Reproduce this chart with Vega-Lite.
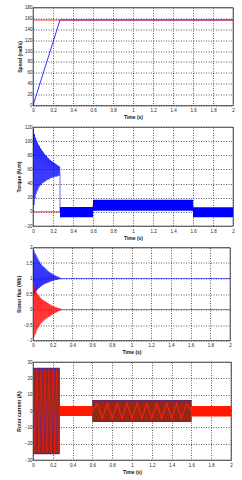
{
  "$schema": "https://vega.github.io/schema/vega-lite/v6.json",
  "padding": {"left": 16, "top": 3.5, "right": 2, "bottom": 2},
  "spacing": 2.5,
  "columns": 1,
  "align": "none",
  "config": {
    "view": {"stroke": "#000", "strokeWidth": 0.7},
    "axis": {"labelFont": "Liberation Sans", "labelFontSize": 4.5, "labelColor": "#222", "titleFont": "Liberation Sans", "titleFontSize": 5, "titleFontWeight": "bold", "titleColor": "#111", "ticks": false, "domain": false, "grid": true, "gridColor": "#333", "gridDash": [1, 1.5], "gridWidth": 0.8, "labelOverlap": false, "labelFlush": false, "labelBound": false, "tickCount": 20},
    "axisX": {"labelPadding": 2, "titlePadding": 2.5},
    "axisY": {"labelPadding": 1}
  },
  "datasets": {
    "speed": [{"t": 0, "v": 0}, {"t": 0.27, "v": 157}, {"t": 2, "v": 157}],
    "speedRef": [{"t": 0, "v": 157}, {"t": 2, "v": 157}],
    "torqueLoad": [{"i": 0, "t": 0, "v": 0}, {"i": 1, "t": 0.6, "v": 0}, {"i": 2, "t": 0.6, "v": 10}, {"i": 3, "t": 1.6, "v": 10}, {"i": 4, "t": 1.6, "v": 0}, {"i": 5, "t": 2, "v": 0}],
    "torque": [
      {"i": 0, "t": 0, "v": 0}, {"i": 1, "t": 0.005, "v": 117}, {"i": 2, "t": 0.01, "v": 10}, {"i": 3, "t": 0.015, "v": 110},
      {"i": 4, "t": 0.02, "v": 19}, {"i": 5, "t": 0.025, "v": 105}, {"i": 6, "t": 0.03, "v": 25}, {"i": 7, "t": 0.035, "v": 101},
      {"i": 8, "t": 0.04, "v": 29}, {"i": 9, "t": 0.045, "v": 98}, {"i": 10, "t": 0.05, "v": 32}, {"i": 11, "t": 0.055, "v": 95},
      {"i": 12, "t": 0.06, "v": 35}, {"i": 13, "t": 0.065, "v": 93}, {"i": 14, "t": 0.07, "v": 37}, {"i": 15, "t": 0.075, "v": 90},
      {"i": 16, "t": 0.08, "v": 38}, {"i": 17, "t": 0.085, "v": 88}, {"i": 18, "t": 0.09, "v": 40}, {"i": 19, "t": 0.095, "v": 86},
      {"i": 20, "t": 0.1, "v": 41}, {"i": 21, "t": 0.105, "v": 84}, {"i": 22, "t": 0.11, "v": 42}, {"i": 23, "t": 0.115, "v": 82},
      {"i": 24, "t": 0.12, "v": 43}, {"i": 25, "t": 0.125, "v": 80}, {"i": 26, "t": 0.13, "v": 44}, {"i": 27, "t": 0.135, "v": 79},
      {"i": 28, "t": 0.14, "v": 45}, {"i": 29, "t": 0.145, "v": 77}, {"i": 30, "t": 0.15, "v": 46}, {"i": 31, "t": 0.155, "v": 76},
      {"i": 32, "t": 0.16, "v": 46}, {"i": 33, "t": 0.165, "v": 74}, {"i": 34, "t": 0.17, "v": 47}, {"i": 35, "t": 0.175, "v": 73},
      {"i": 36, "t": 0.18, "v": 48}, {"i": 37, "t": 0.185, "v": 72}, {"i": 38, "t": 0.19, "v": 48}, {"i": 39, "t": 0.195, "v": 71},
      {"i": 40, "t": 0.2, "v": 49}, {"i": 41, "t": 0.205, "v": 70}, {"i": 42, "t": 0.21, "v": 49}, {"i": 43, "t": 0.215, "v": 69},
      {"i": 44, "t": 0.22, "v": 50}, {"i": 45, "t": 0.225, "v": 68}, {"i": 46, "t": 0.23, "v": 50}, {"i": 47, "t": 0.235, "v": 67},
      {"i": 48, "t": 0.24, "v": 50}, {"i": 49, "t": 0.245, "v": 66}, {"i": 50, "t": 0.25, "v": 51}, {"i": 51, "t": 0.255, "v": 65},
      {"i": 52, "t": 0.26, "v": 51}, {"i": 53, "t": 0.265, "v": 64}, {"i": 54, "t": 0.27, "v": 52}, {"i": 55, "t": 0.27, "v": 0}
    ],
    "torqueBand": [{"t0": 0.27, "t1": 0.6, "lo": -7.5, "hi": 7}, {"t0": 0.6, "t1": 1.6, "lo": 1.5, "hi": 17}, {"t0": 1.6, "t1": 2, "lo": -7.5, "hi": 6.5}],
    "fluxB": [
      {"t": 0, "v": 2.0}, {"t": 0.005, "v": 0.45}, {"t": 0.01, "v": 1.9}, {"t": 0.015, "v": 0.5}, {"t": 0.02, "v": 1.82}, {"t": 0.025, "v": 0.55},
      {"t": 0.03, "v": 1.76}, {"t": 0.035, "v": 0.6}, {"t": 0.04, "v": 1.7}, {"t": 0.045, "v": 0.64}, {"t": 0.05, "v": 1.63}, {"t": 0.055, "v": 0.68},
      {"t": 0.06, "v": 1.57}, {"t": 0.065, "v": 0.7}, {"t": 0.07, "v": 1.52}, {"t": 0.075, "v": 0.73}, {"t": 0.08, "v": 1.47}, {"t": 0.085, "v": 0.76},
      {"t": 0.09, "v": 1.43}, {"t": 0.095, "v": 0.78}, {"t": 0.1, "v": 1.4}, {"t": 0.105, "v": 0.8}, {"t": 0.11, "v": 1.37}, {"t": 0.115, "v": 0.82},
      {"t": 0.12, "v": 1.34}, {"t": 0.125, "v": 0.83}, {"t": 0.13, "v": 1.31}, {"t": 0.135, "v": 0.85}, {"t": 0.14, "v": 1.28}, {"t": 0.145, "v": 0.86},
      {"t": 0.15, "v": 1.25}, {"t": 0.155, "v": 0.87}, {"t": 0.16, "v": 1.22}, {"t": 0.165, "v": 0.89}, {"t": 0.17, "v": 1.2}, {"t": 0.175, "v": 0.9},
      {"t": 0.18, "v": 1.18}, {"t": 0.185, "v": 0.91}, {"t": 0.19, "v": 1.16}, {"t": 0.195, "v": 0.92}, {"t": 0.2, "v": 1.14}, {"t": 0.205, "v": 0.93},
      {"t": 0.21, "v": 1.12}, {"t": 0.215, "v": 0.94}, {"t": 0.22, "v": 1.1}, {"t": 0.225, "v": 0.95}, {"t": 0.23, "v": 1.09}, {"t": 0.235, "v": 0.96},
      {"t": 0.24, "v": 1.07}, {"t": 0.245, "v": 0.96}, {"t": 0.25, "v": 1.06}, {"t": 0.255, "v": 0.97}, {"t": 0.26, "v": 1.04}, {"t": 0.265, "v": 0.98},
      {"t": 0.27, "v": 1.03}, {"t": 0.275, "v": 0.98}, {"t": 0.28, "v": 1.02}, {"t": 0.285, "v": 0.99}, {"t": 0.29, "v": 1.01}, {"t": 0.295, "v": 0.99},
      {"t": 0.3, "v": 1.0}, {"t": 2, "v": 1.0}
    ],
    "fluxR": [
      {"t": 0, "v": -1.0}, {"t": 0.005, "v": 0.9}, {"t": 0.01, "v": -0.9}, {"t": 0.015, "v": 0.75}, {"t": 0.02, "v": -0.82}, {"t": 0.025, "v": 0.65},
      {"t": 0.03, "v": -0.74}, {"t": 0.035, "v": 0.57}, {"t": 0.04, "v": -0.66}, {"t": 0.045, "v": 0.5}, {"t": 0.05, "v": -0.6}, {"t": 0.055, "v": 0.45},
      {"t": 0.06, "v": -0.54}, {"t": 0.065, "v": 0.42}, {"t": 0.07, "v": -0.49}, {"t": 0.075, "v": 0.38}, {"t": 0.08, "v": -0.45}, {"t": 0.085, "v": 0.35},
      {"t": 0.09, "v": -0.42}, {"t": 0.095, "v": 0.32}, {"t": 0.1, "v": -0.39}, {"t": 0.105, "v": 0.3}, {"t": 0.11, "v": -0.36}, {"t": 0.115, "v": 0.28},
      {"t": 0.12, "v": -0.33}, {"t": 0.125, "v": 0.26}, {"t": 0.13, "v": -0.3}, {"t": 0.135, "v": 0.24}, {"t": 0.14, "v": -0.28}, {"t": 0.145, "v": 0.22},
      {"t": 0.15, "v": -0.26}, {"t": 0.155, "v": 0.2}, {"t": 0.16, "v": -0.24}, {"t": 0.165, "v": 0.18}, {"t": 0.17, "v": -0.22}, {"t": 0.175, "v": 0.16},
      {"t": 0.18, "v": -0.2}, {"t": 0.185, "v": 0.14}, {"t": 0.19, "v": -0.18}, {"t": 0.195, "v": 0.12}, {"t": 0.2, "v": -0.16}, {"t": 0.205, "v": 0.11},
      {"t": 0.21, "v": -0.14}, {"t": 0.215, "v": 0.1}, {"t": 0.22, "v": -0.12}, {"t": 0.225, "v": 0.08}, {"t": 0.23, "v": -0.1}, {"t": 0.235, "v": 0.07},
      {"t": 0.24, "v": -0.09}, {"t": 0.245, "v": 0.06}, {"t": 0.25, "v": -0.07}, {"t": 0.255, "v": 0.05}, {"t": 0.26, "v": -0.05}, {"t": 0.265, "v": 0.04},
      {"t": 0.27, "v": -0.04}, {"t": 0.275, "v": 0.03}, {"t": 0.28, "v": -0.03}, {"t": 0.285, "v": 0.02}, {"t": 0.29, "v": -0.01}, {"t": 0.295, "v": 0.01},
      {"t": 0.3, "v": 0}, {"t": 2, "v": 0}
    ],
    "currentBand": [
      {"t0": 0, "t1": 0.27, "lo": -26.5, "hi": 26.5, "c": "p"},
      {"t0": 0, "t1": 0.27, "lo": -25.5, "hi": 25.5, "c": "d"},
      {"t0": 0.27, "t1": 0.6, "lo": -3, "hi": 3, "c": "r"},
      {"t0": 0.6, "t1": 1.6, "lo": -6.8, "hi": 6.8, "c": "p"},
      {"t0": 0.6, "t1": 1.6, "lo": -6.2, "hi": 6.3, "c": "d"},
      {"t0": 1.6, "t1": 2, "lo": -3.3, "hi": 3, "c": "r"}
    ],
    "currentA": [
      {"t": 0, "v": 25.5}, {"t": 0.02, "v": -25.5}, {"t": 0.04, "v": 25.5}, {"t": 0.06, "v": -25.5}, {"t": 0.08, "v": 25.5},
      {"t": 0.1, "v": -25.5}, {"t": 0.12, "v": 25.5}, {"t": 0.14, "v": -25.5}, {"t": 0.16, "v": 25.5}, {"t": 0.18, "v": -25.5},
      {"t": 0.2, "v": 25.5}, {"t": 0.22, "v": -25.5}, {"t": 0.24, "v": 25.5}, {"t": 0.26, "v": -25.5}
    ],
    "currentB": [
      {"t": 0.005, "v": -26}, {"t": 0.035, "v": 26}, {"t": 0.065, "v": -26}, {"t": 0.095, "v": 26}, {"t": 0.125, "v": -26},
      {"t": 0.155, "v": 26}, {"t": 0.185, "v": -26}, {"t": 0.215, "v": 26}, {"t": 0.245, "v": -26}
    ],
    "currentW": [
      {"t": 0.6, "v": 0}, {"t": 0.65, "v": 4.5}, {"t": 0.7, "v": -4.5}, {"t": 0.75, "v": 4.5}, {"t": 0.8, "v": -4.5}, {"t": 0.85, "v": 4.5},
      {"t": 0.9, "v": -4.5}, {"t": 0.95, "v": 4.5}, {"t": 1.0, "v": -4.5}, {"t": 1.05, "v": 4.5}, {"t": 1.1, "v": -4.5}, {"t": 1.15, "v": 4.5},
      {"t": 1.2, "v": -4.5}, {"t": 1.25, "v": 4.5}, {"t": 1.3, "v": -4.5}, {"t": 1.35, "v": 4.5}, {"t": 1.4, "v": -4.5}, {"t": 1.45, "v": 4.5},
      {"t": 1.5, "v": -4.5}, {"t": 1.55, "v": 4.5}, {"t": 1.6, "v": 0}
    ]
  },
  "concat": [
    {
      "width": 200, "height": 98,
      "layer": [
        {"data": {"name": "speed"}, "mark": {"type": "line", "color": "#0000ff", "strokeWidth": 0.8, "clip": true},
         "encoding": {
           "x": {"field": "t", "type": "quantitative", "scale": {"domain": [0, 2], "nice": false}, "axis": {"values": [0, 0.2, 0.4, 0.6, 0.8, 1, 1.2, 1.4, 1.6, 1.8, 2], "format": "~g", "title": "Time (s)", "labelOverlap": false}},
           "y": {"field": "v", "type": "quantitative", "scale": {"domain": [0, 180], "nice": false}, "axis": {"values": [0, 20, 40, 60, 80, 100, 120, 140, 160, 180], "title": "Speed (rad/s)", "titlePadding": 2, "labelOverlap": false}}
         }},
        {"data": {"name": "speedRef"}, "mark": {"type": "line", "color": "#ff0000", "strokeWidth": 0.8, "clip": true},
         "encoding": {"x": {"field": "t", "type": "quantitative"}, "y": {"field": "v", "type": "quantitative"}}}
      ]
    },
    {
      "width": 200, "height": 99,
      "layer": [
        {"data": {"name": "torqueLoad"}, "mark": {"type": "line", "color": "#ff0000", "strokeWidth": 0.8, "clip": true},
         "encoding": {
           "x": {"field": "t", "type": "quantitative", "scale": {"domain": [0, 2], "nice": false}, "axis": {"values": [0, 0.2, 0.4, 0.6, 0.8, 1, 1.2, 1.4, 1.6, 1.8, 2], "format": "~g", "title": "Time (s)", "labelOverlap": false}},
           "y": {"field": "v", "type": "quantitative", "scale": {"domain": [-20, 120], "nice": false}, "axis": {"values": [-20, 0, 20, 40, 60, 80, 100, 120], "title": "Torque (N.m)", "titlePadding": 2.5, "labelOverlap": false}},
           "order": {"field": "i"}
         }},
        {"data": {"name": "torque"}, "mark": {"type": "line", "color": "#0000ff", "strokeWidth": 0.6, "clip": true},
         "encoding": {"x": {"field": "t", "type": "quantitative"}, "y": {"field": "v", "type": "quantitative"}, "order": {"field": "i"}}},
        {"data": {"name": "torqueBand"}, "mark": {"type": "rect", "color": "#0000ff", "clip": true},
         "encoding": {"x": {"field": "t0", "type": "quantitative"}, "x2": {"field": "t1"}, "y": {"field": "lo", "type": "quantitative"}, "y2": {"field": "hi"}}}
      ]
    },
    {
      "width": 197, "height": 93,
      "layer": [
        {"data": {"name": "fluxB"}, "mark": {"type": "line", "color": "#0000ff", "strokeWidth": 0.6, "clip": true},
         "encoding": {
           "x": {"field": "t", "type": "quantitative", "scale": {"domain": [0, 2], "nice": false}, "axis": {"values": [0, 0.2, 0.4, 0.6, 0.8, 1, 1.2, 1.4, 1.6, 1.8, 2], "format": "~g", "title": "Time (s)", "labelOverlap": false}},
           "y": {"field": "v", "type": "quantitative", "scale": {"domain": [-1, 2], "nice": false}, "axis": {"values": [-1, -0.5, 0, 0.5, 1, 1.5, 2], "format": "~g", "title": "Stator flux (Wb)", "titlePadding": 1.7, "labelOverlap": false}}
         }},
        {"data": {"name": "fluxR"}, "mark": {"type": "line", "color": "#ff0000", "strokeWidth": 0.6, "clip": true},
         "encoding": {"x": {"field": "t", "type": "quantitative"}, "y": {"field": "v", "type": "quantitative"}}}
      ]
    },
    {
      "width": 198, "height": 98,
      "layer": [
        {"data": {"name": "currentBand"}, "mark": {"type": "rect", "clip": true},
         "encoding": {
           "x": {"field": "t0", "type": "quantitative", "scale": {"domain": [0, 2], "nice": false}, "axis": {"values": [0, 0.2, 0.4, 0.6, 0.8, 1, 1.2, 1.4, 1.6, 1.8, 2], "format": "~g", "title": "Time (s)", "labelOverlap": false}},
           "x2": {"field": "t1"},
           "y": {"field": "lo", "type": "quantitative", "scale": {"domain": [-30, 30], "nice": false}, "axis": {"values": [-30, -20, -10, 0, 10, 20, 30], "title": "Rotor current (A)", "titlePadding": 2.5, "labelOverlap": false}},
           "y2": {"field": "hi"},
           "color": {"field": "c", "type": "nominal", "scale": {"domain": ["p", "d", "r"], "range": ["#4a2a8a", "#94261a", "#ff1a00"]}, "legend": null}
         }},
        {"data": {"name": "currentB"}, "mark": {"type": "line", "color": "#6a2c9a", "strokeWidth": 0.6, "clip": true},
         "encoding": {"x": {"field": "t", "type": "quantitative"}, "y": {"field": "v", "type": "quantitative"}}},
        {"data": {"name": "currentA"}, "mark": {"type": "line", "color": "#ff1a00", "strokeWidth": 0.6, "clip": true},
         "encoding": {"x": {"field": "t", "type": "quantitative"}, "y": {"field": "v", "type": "quantitative"}}},
        {"data": {"name": "currentW"}, "mark": {"type": "line", "color": "#ff2000", "strokeWidth": 1.2, "clip": true},
         "encoding": {"x": {"field": "t", "type": "quantitative"}, "y": {"field": "v", "type": "quantitative"}}}
      ]
    }
  ]
}
